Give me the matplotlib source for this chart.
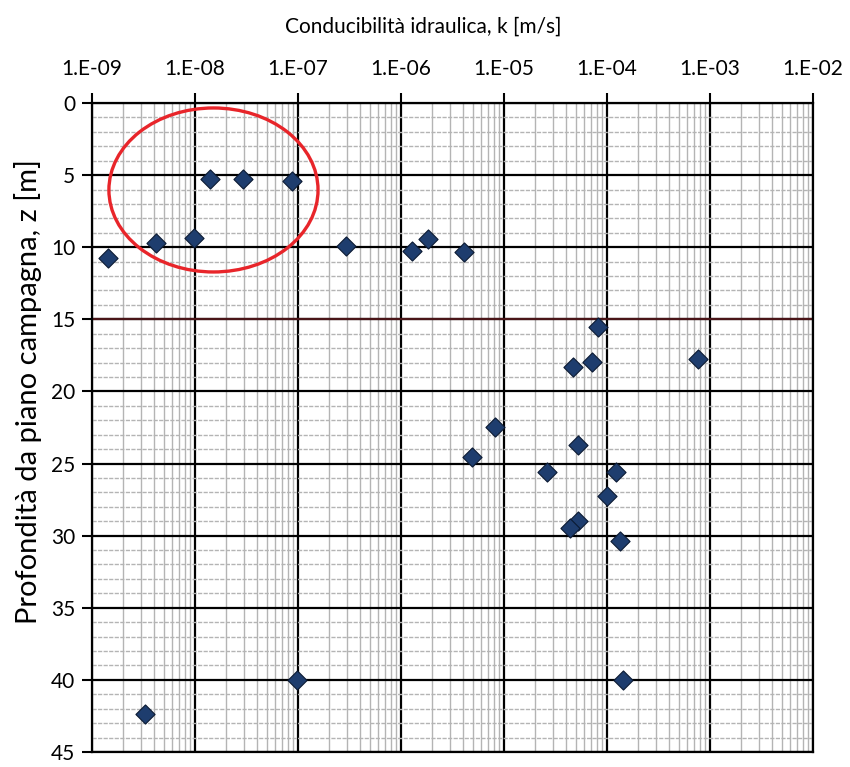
import numpy as np
import matplotlib
matplotlib.use('Agg')
import matplotlib.pyplot as plt
from matplotlib.patches import Ellipse
from matplotlib.ticker import FixedLocator, FuncFormatter, MultipleLocator

# hydraulic conductivity k [m/s] vs depth below ground z [m]
k_values = [1.43e-9, 4.2e-9, 9.8e-9, 1.4e-8, 2.9e-8, 8.7e-8, 2.9e-7, 1.28e-6, 1.83e-6, 4.1e-6,
            8.2e-5, 4.7e-5, 7.1e-5, 7.6e-4, 8.2e-6, 4.9e-6, 5.2e-5, 2.6e-5, 1.22e-4, 1.0e-4,
            5.2e-5, 4.4e-5, 1.34e-4, 9.8e-8, 1.43e-4, 3.3e-9]
z_values = [10.75, 9.7, 9.36, 5.27, 5.27, 5.41, 9.92, 10.26, 9.43, 10.33,
            15.53, 18.3, 17.96, 17.75, 22.47, 24.55, 23.7, 25.6, 25.6, 27.25,
            29.0, 29.5, 30.4, 40.0, 40.0, 42.4]

decades = [1e-9, 1e-8, 1e-7, 1e-6, 1e-5, 1e-4, 1e-3, 1e-2]
depth_ticks = [0, 5, 10, 15, 20, 25, 30, 35, 40, 45]
highlight_depth = 15

font = 'Lato'

fig = plt.figure(figsize=(8.5, 7.67), dpi=100)
ax = fig.add_axes([0.1082, 0.0196, 0.8483, 0.8461])

ax.set_xscale('log')
ax.set_xlim(decades[0], decades[-1])
ax.set_ylim(depth_ticks[-1], depth_ticks[0])

ax.xaxis.tick_top()
ax.xaxis.set_major_locator(FixedLocator(decades))
minor_x = [m * d for d in decades[:-1] for m in range(2, 10)]
ax.xaxis.set_minor_locator(FixedLocator(minor_x))
ax.xaxis.set_major_formatter(FuncFormatter(lambda v, p: f'1.E{int(round(np.log10(v))):+03d}'))
ax.xaxis.set_minor_formatter(FuncFormatter(lambda v, p: ''))

ax.yaxis.set_major_locator(FixedLocator(depth_ticks))
ax.yaxis.set_minor_locator(MultipleLocator(1))

ax.tick_params(which='major', direction='out', length=7, width=1.5, color='black',
               labelsize=15, pad=5)
ax.tick_params(which='minor', length=0)
ax.tick_params(axis='x', pad=10)
for lbl in ax.get_xticklabels() + ax.get_yticklabels():
    lbl.set_fontfamily(font)

# grid: grey minor lines, black majors
ax.grid(which='minor', axis='x', color='#b4b4b4', linewidth=1.0, linestyle='-')
ax.grid(which='minor', axis='y', color='#b4b4b4', linewidth=1.0, linestyle=(0, (3, 1)))
ax.grid(which='major', color='black', linewidth=1.6)
ax.set_axisbelow(True)
ax.axhline(highlight_depth, color='#4a1518', linewidth=1.6, zorder=1)

for s in ax.spines.values():
    s.set_linewidth(1.6)
    s.set_color('black')

ax.scatter(k_values, z_values, marker='D', s=95, facecolor='#1e3d6e',
           edgecolor='#0b1a33', linewidth=0.8, zorder=3)

# red ring around the shallow low-permeability samples
ring = Ellipse((0.1685, 0.866), 0.290, 0.2527, transform=ax.transAxes,
               fill=False, edgecolor='#e8252a', linewidth=2.4, zorder=4)
ax.add_patch(ring)

ax.set_xlabel('Conducibilità idraulica, k [m/s]', fontfamily=font, fontsize=15)
ax.xaxis.set_label_position('top')
ax.xaxis.set_label_coords(0.46, 1.0 + 70 / 649)
ax.set_ylabel('Profondità da piano campagna, z [m]', fontfamily=font, fontsize=21)
ax.yaxis.set_label_coords(-50 / 721, 0.555)

fig.savefig('out.png', dpi=100)
